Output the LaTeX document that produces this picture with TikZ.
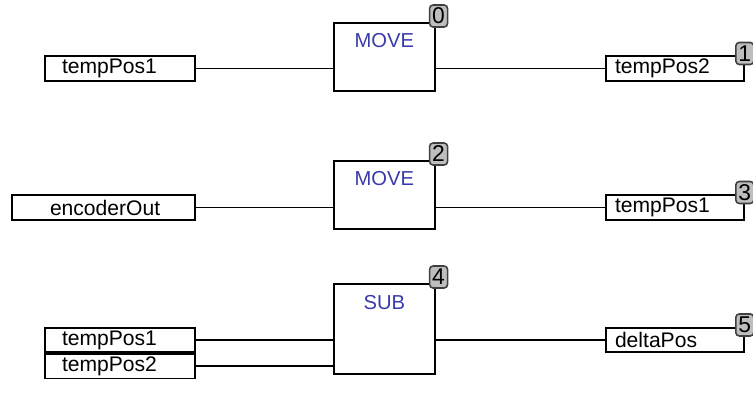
\documentclass[tikz,border=0pt]{standalone}
\usepackage{fontspec}
\setmainfont{Liberation Sans}
\usetikzlibrary{positioning}
\definecolor{fbdblue}{RGB}{58,58,170}
\definecolor{badgegray}{RGB}{190,190,190}

\begin{document}
\begin{tikzpicture}[x=0.2mm, y=-0.2mm, line width=0.9pt,
  varbox/.style={draw, minimum height=4.9mm, inner ysep=0pt,
    font=\fontsize{12}{14}\selectfont},
  fbdblock/.style={draw, anchor=north west, inner sep=0pt, minimum width=20.2mm},
  blockname/.style={text=fbdblue, font=\fontsize{11.5}{13}\selectfont},
  badge/.style={draw=black!75, fill=badgegray, rounded corners=2pt,
    minimum width=3.6mm, minimum height=4.4mm, inner sep=0pt,
    font=\fontsize{13}{15}\selectfont}]

  \useasboundingbox (0,0) rectangle (753,400);

  % Network 0: MOVE
  \node[varbox, inner xsep=3.4mm, text width=23.2mm] (in1)  at (120,68.5) {tempPos1};
  \node[fbdblock, minimum height=13.6mm] (mv0) at (333,22) {};
  \node[blockname, below=0.9mm of mv0.north] (mv0name) {MOVE};
  \node[varbox, inner xsep=1.8mm, text width=24mm] (out1) at (675,68.5) {tempPos2};

  \draw (in1) -- (in1 -| mv0.west);
  \draw (mv0.east |- out1) -- (out1);

  \node[badge] (b0) at ([xshift=0.6mm,yshift=1.2mm]mv0.north east) {0};
  \node[badge] (b1) at ([yshift=0.4mm]out1.north east) {1};

  % Network 1: MOVE
  \node[varbox, inner xsep=7.6mm, text width=21.4mm] (in2)  at (103.5,207.5) {encoderOut};
  \node[fbdblock, minimum height=13.6mm] (mv2) at (333,160) {};
  \node[blockname, below=0.9mm of mv2.north] (mv2name) {MOVE};
  \node[varbox, inner xsep=1.8mm, text width=24mm] (out3) at (675,207.5) {tempPos1};

  \draw (in2) -- (in2 -| mv2.west);
  \draw (mv2.east |- out3) -- (out3);

  \node[badge] (b2) at ([xshift=0.6mm,yshift=1.2mm]mv2.north east) {2};
  \node[badge] (b3) at ([yshift=0.4mm]out3.north east) {3};

  % Network 2: SUB
  \node[varbox, inner xsep=3.4mm, text width=23.2mm] (in3a) at (120,340) {tempPos1};
  \node[varbox, inner xsep=3.4mm, text width=23.2mm, below=0pt of in3a] (in3b) {tempPos2};
  \node[fbdblock, minimum height=18mm] (sub4) at (333,283) {};
  \node[blockname, below=1.2mm of sub4.north] (sub4name) {SUB};
  \node[varbox, inner xsep=1.8mm, text width=24mm] (out5) at (675,340) {deltaPos};

  \draw (in3a) -- (in3a -| sub4.west);
  \draw (in3b) -- (in3b -| sub4.west);
  \draw (sub4.east |- out5) -- (out5);

  \node[badge] (b4) at ([xshift=0.6mm,yshift=1.2mm]sub4.north east) {4};
  \node[badge] (b5) at ([yshift=0.4mm]out5.north east) {5};

\end{tikzpicture}
\end{document}
